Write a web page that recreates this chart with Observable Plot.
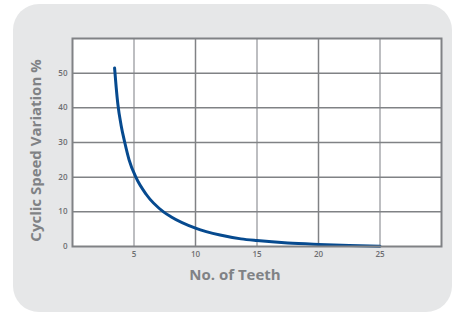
<!DOCTYPE html>
<html>
<head>
<meta charset="utf-8">
<script src="https://cdn.jsdelivr.net/npm/d3@7"></script>
<script src="https://cdn.jsdelivr.net/npm/@observablehq/plot@0.6"></script>
<style>
  html, body { margin: 0; padding: 0; background: #ffffff; }
  #wrap { position: relative; width: 456px; height: 313px; overflow: hidden; }
  #bg { position: absolute; left: 13px; top: 4px; width: 439px; height: 308px; border-radius: 26px; background: #e6e7e8; }
  #chart { position: absolute; left: 0; top: 0; }
</style>
</head>
<body>
<div id="wrap"><div id="bg"></div><div id="chart"></div></div>
<script>
const teeth = [3.42, 3.55, 3.69, 3.95, 4.25, 4.6, 5.15, 6.0, 7.4, 8.0, 10.0, 12.0, 13.7, 15.0, 17.5, 20.0, 22.5, 25.0];
const variation = [51.5, 46.0, 41.0, 35.0, 30.0, 25.0, 20.0, 15.0, 10.0, 8.6, 5.3, 3.3, 2.2, 1.7, 1.0, 0.6, 0.3, 0.1];
const xTicks = [5, 10, 15, 20, 25];
const yTicks = [0, 10, 20, 30, 40, 50];
const xGridDark = [10, 20];
const xGridLight = [5, 15, 25];
const yGrid = [10, 20, 30, 40, 50];
const xLabel = ["No. of Teeth"];
const yLabel = ["Cyclic Speed Variation %"];

const data = teeth.map((t, i) => ({teeth: t, variation: variation[i]}));
const textColor = "#6d6e71";
const labelColor = "#808285";
const font = "'Open Sans', sans-serif";

const chart = Plot.plot({
  width: 456,
  height: 313,
  marginLeft: 72,
  marginRight: 15,
  marginTop: 38,
  marginBottom: 67,
  style: {background: "transparent", fontFamily: font},
  x: {domain: [0, 30]},
  y: {domain: [0, 60]},
  marks: [
    Plot.frame({fill: "white", stroke: null}),
    Plot.ruleX(xGridLight, {stroke: "#a7a9ac", strokeWidth: 1.5}),
    Plot.ruleX(xGridDark, {stroke: "#808285", strokeWidth: 1.5}),
    Plot.ruleY(yGrid, {stroke: "#808285", strokeWidth: 1.5}),
    Plot.line(data, {x: "teeth", y: "variation", curve: "monotone-x", stroke: "#064a8f", strokeWidth: 3}),
    Plot.frame({stroke: "#808285", strokeWidth: 2}),
    Plot.axisX(xTicks, {tickSize: 0, tickPadding: 5, fontSize: 8, fontWeight: 600, fill: textColor, label: null}),
    Plot.axisY(yTicks, {tickSize: 0, tickPadding: 5, fontSize: 8, fontWeight: 600, fill: textColor, label: null}),
    Plot.text(xLabel, {frameAnchor: "bottom", dx: -22, dy: 29, fontSize: 15, fontWeight: 700,
      fill: labelColor, lineAnchor: "middle", textAnchor: "middle"}),
    Plot.text(yLabel, {frameAnchor: "left", rotate: -90, dx: -36, dy: 8, fontSize: 15, fontWeight: 700,
      fill: labelColor, lineAnchor: "middle", textAnchor: "middle"})
  ]
});
document.getElementById("chart").appendChild(chart);
</script>
</body>
</html>
